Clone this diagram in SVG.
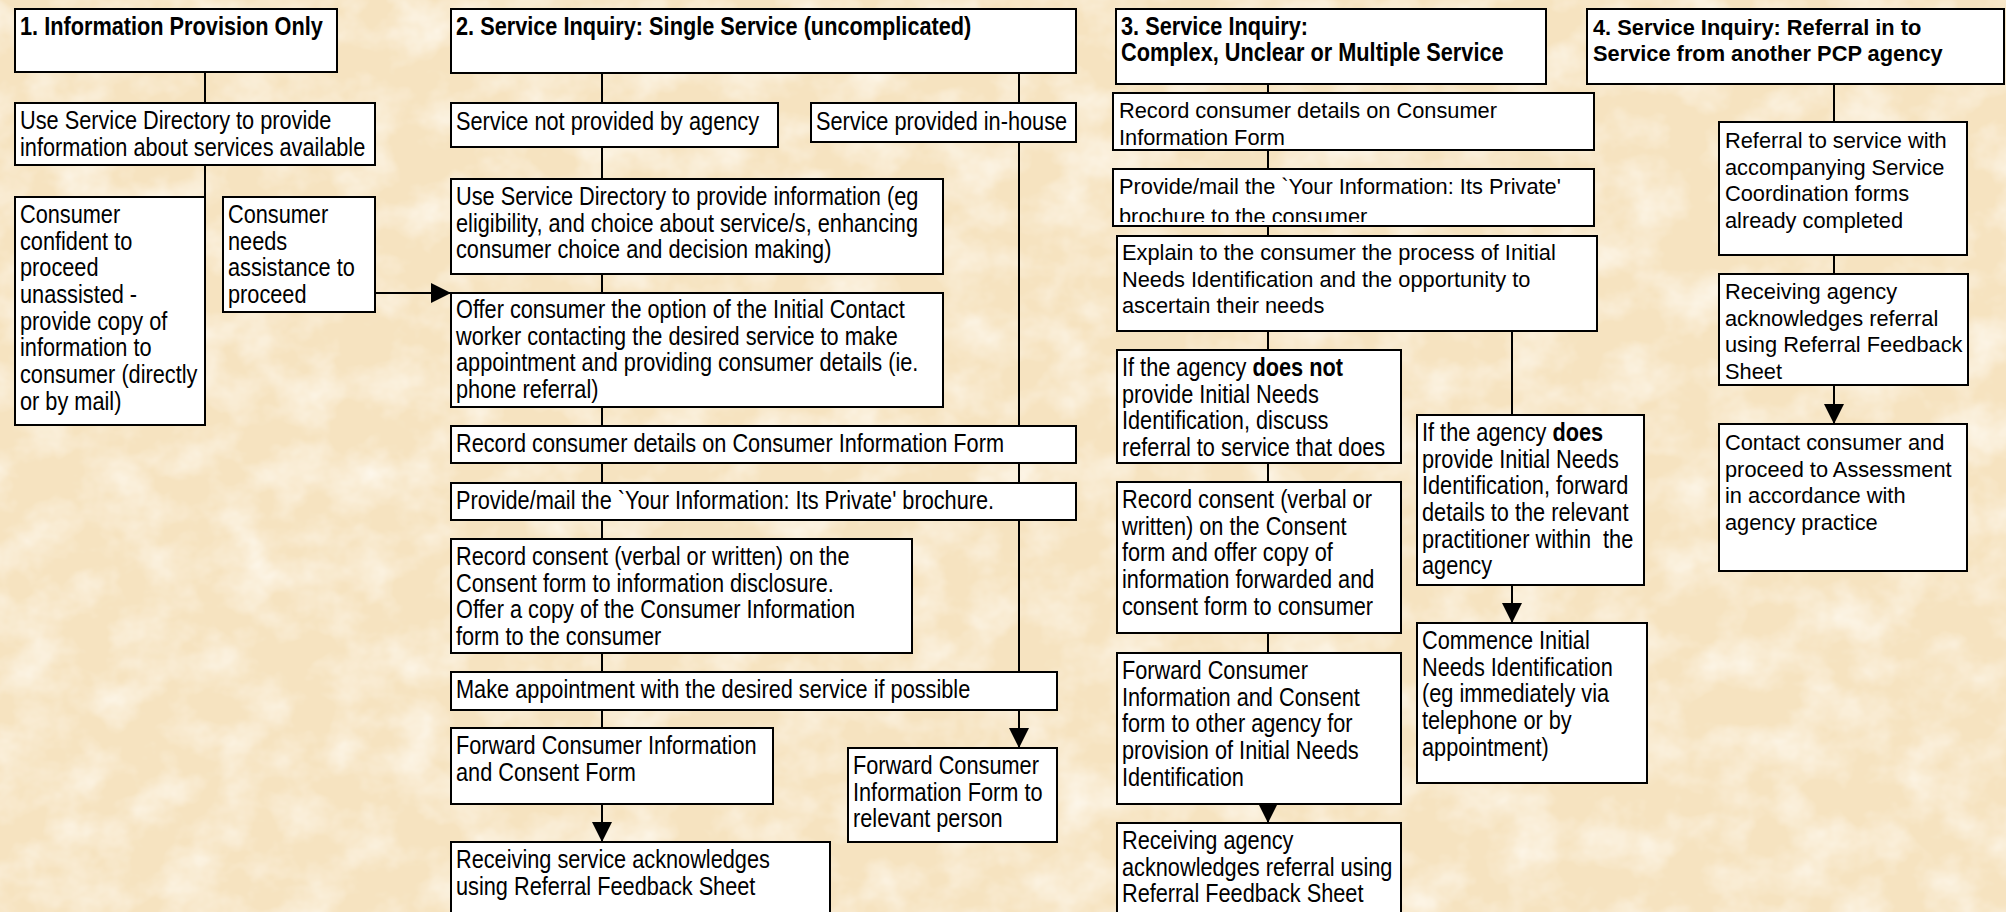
<svg xmlns="http://www.w3.org/2000/svg" width="2006" height="912" viewBox="0 0 2006 912">
<style>
.box{fill:#fff;stroke:#000;stroke-width:2}
.n{font-family:"Liberation Sans",Arial,sans-serif;font-size:26.5px;fill:#000}
.r{font-family:"Liberation Sans",Arial,sans-serif;font-size:21.8px;fill:#000}
.b{font-weight:bold}
.conn path{stroke:#000;stroke-width:2;fill:none}
</style>
<defs>
<marker id="ah" markerUnits="userSpaceOnUse" markerWidth="20" markerHeight="20" refX="20" refY="10" orient="auto" viewBox="0 0 20 20">
<path d="M0,0 L20,10 L0,20 z" fill="#000"/>
</marker>
<filter id="tex" filterUnits="userSpaceOnUse" x="0" y="0" width="2006" height="912">
<feTurbulence type="fractalNoise" baseFrequency="0.018 0.022" numOctaves="4" seed="7"/>
<feColorMatrix type="matrix" values="0 0 0 0 1  0 0 0 0 0.98  0 0 0 0 0.94  0 0 0 -1.4 0.85"/>
</filter>
<clipPath id="clipP"><rect x="1113" y="169" width="481" height="53"/></clipPath>
</defs>
<g id="background">
<rect width="2006" height="912" fill="#f6e3c0"/>
<rect width="2006" height="912" filter="url(#tex)"/>
</g>
<g id="connectors" class="conn">
<path d="M205,72V103"/>
<path d="M205,165V197"/>
<path d="M375,293H451" marker-end="url(#ah)"/>
<path d="M602,73V103"/>
<path d="M1019,73V103"/>
<path d="M602,147V179"/>
<path d="M602,274V293"/>
<path d="M602,407V426"/>
<path d="M1019,142V426"/>
<path d="M602,463V483"/>
<path d="M1019,463V483"/>
<path d="M602,520V539"/>
<path d="M1019,520V672"/>
<path d="M602,653V672"/>
<path d="M602,710V728"/>
<path d="M1019,710V748" marker-end="url(#ah)"/>
<path d="M602,804V842" marker-end="url(#ah)"/>
<path d="M1268,84V93"/>
<path d="M1268,150V169"/>
<path d="M1268,226V236"/>
<path d="M1268,331V350"/>
<path d="M1512,331V415"/>
<path d="M1268,463V482"/>
<path d="M1268,633V653"/>
<path d="M1268,804V823" marker-end="url(#ah)"/>
<path d="M1512,585V623" marker-end="url(#ah)"/>
<path d="M1834,84V122"/>
<path d="M1834,255V274"/>
<path d="M1834,385V424" marker-end="url(#ah)"/>
</g>
<g id="h1"><rect class="box" x="15" y="9" width="322" height="63"/>
<text class="n b" transform="translate(20,35) scale(0.82 1)">1. Information Provision Only</text></g>
<g id="c1a"><rect class="box" x="15" y="103" width="360" height="62"/>
<text class="n" transform="translate(20,129) scale(0.82 1)"><tspan x="0">Use Service Directory to provide</tspan><tspan x="0" dy="26.7">information about services available</tspan></text></g>
<g id="c1b"><rect class="box" x="15" y="197" width="190" height="228"/>
<text class="n" transform="translate(20,223) scale(0.82 1)"><tspan x="0">Consumer</tspan><tspan x="0" dy="26.7">confident to</tspan><tspan x="0" dy="26.7">proceed</tspan><tspan x="0" dy="26.7">unassisted -</tspan><tspan x="0" dy="26.7">provide copy of</tspan><tspan x="0" dy="26.7">information to</tspan><tspan x="0" dy="26.7">consumer (directly</tspan><tspan x="0" dy="26.7">or by mail)</tspan></text></g>
<g id="c1c"><rect class="box" x="223" y="197" width="152" height="115"/>
<text class="n" transform="translate(228,223) scale(0.82 1)"><tspan x="0">Consumer</tspan><tspan x="0" dy="26.7">needs</tspan><tspan x="0" dy="26.7">assistance to</tspan><tspan x="0" dy="26.7">proceed</tspan></text></g>
<g id="h2"><rect class="box" x="451" y="9" width="625" height="64"/>
<text class="n b" transform="translate(456,35) scale(0.82 1)">2. Service Inquiry: Single Service (uncomplicated)</text></g>
<g id="c2a"><rect class="box" x="451" y="103" width="327" height="44"/>
<text class="n" transform="translate(456,130) scale(0.82 1)">Service not provided by agency</text></g>
<g id="c2b"><rect class="box" x="811" y="103" width="265" height="39"/>
<text class="n" transform="translate(816,130) scale(0.82 1)">Service provided in-house</text></g>
<g id="c2c"><rect class="box" x="451" y="179" width="492" height="95"/>
<text class="n" transform="translate(456,205) scale(0.82 1)"><tspan x="0">Use Service Directory to provide information (eg</tspan><tspan x="0" dy="26.7">eligibility, and choice about service/s, enhancing</tspan><tspan x="0" dy="26.7">consumer choice and decision making)</tspan></text></g>
<g id="c2d"><rect class="box" x="451" y="293" width="492" height="114"/>
<text class="n" transform="translate(456,318) scale(0.82 1)"><tspan x="0">Offer consumer the option of the Initial Contact</tspan><tspan x="0" dy="26.7">worker contacting the desired service to make</tspan><tspan x="0" dy="26.7">appointment and providing consumer details (ie.</tspan><tspan x="0" dy="26.7">phone referral)</tspan></text></g>
<g id="c2e"><rect class="box" x="451" y="426" width="625" height="37"/>
<text class="n" transform="translate(456,452) scale(0.82 1)">Record consumer details on Consumer Information Form</text></g>
<g id="c2f"><rect class="box" x="451" y="483" width="625" height="37"/>
<text class="n" transform="translate(456,509) scale(0.82 1)">Provide/mail the `Your Information: Its Private' brochure.</text></g>
<g id="c2g"><rect class="box" x="451" y="539" width="461" height="114"/>
<text class="n" transform="translate(456,565) scale(0.82 1)"><tspan x="0">Record consent (verbal or written) on the</tspan><tspan x="0" dy="26.7">Consent form to information disclosure.</tspan><tspan x="0" dy="26.7">Offer a copy of the Consumer Information</tspan><tspan x="0" dy="26.7">form to the consumer</tspan></text></g>
<g id="c2h"><rect class="box" x="451" y="672" width="606" height="38"/>
<text class="n" transform="translate(456,698) scale(0.82 1)">Make appointment with the desired service if possible</text></g>
<g id="c2i"><rect class="box" x="451" y="728" width="322" height="76"/>
<text class="n" transform="translate(456,754) scale(0.82 1)"><tspan x="0">Forward Consumer Information</tspan><tspan x="0" dy="26.7">and Consent Form</tspan></text></g>
<g id="c2j"><rect class="box" x="848" y="748" width="209" height="94"/>
<text class="n" transform="translate(853,774) scale(0.82 1)"><tspan x="0">Forward Consumer</tspan><tspan x="0" dy="26.7">Information Form to</tspan><tspan x="0" dy="26.7">relevant person</tspan></text></g>
<g id="c2k"><rect class="box" x="451" y="842" width="379" height="100"/>
<text class="n" transform="translate(456,868) scale(0.82 1)"><tspan x="0">Receiving service acknowledges</tspan><tspan x="0" dy="26.7">using Referral Feedback Sheet</tspan></text></g>
<g id="h3"><rect class="box" x="1116" y="9" width="430" height="75"/>
<text class="n b" transform="translate(1121,34.5) scale(0.82 1)"><tspan x="0">3. Service Inquiry:</tspan><tspan x="0" dy="27">Complex, Unclear or Multiple Service</tspan></text></g>
<g id="c3a"><rect class="box" x="1113" y="93" width="481" height="57"/>
<text class="r" x="1119" y="118"><tspan x="1119">Record consumer details on Consumer</tspan><tspan x="1119" dy="26.7">Information Form</tspan></text></g>
<g id="c3b"><rect class="box" x="1113" y="169" width="481" height="57"/>
<text class="r" x="1119" y="194" clip-path="url(#clipP)"><tspan x="1119">Provide/mail the `Your Information: Its Private'</tspan><tspan x="1119" dy="30">brochure to the consumer</tspan></text></g>
<g id="c3c"><rect class="box" x="1117" y="236" width="480" height="95"/>
<text class="r" x="1122" y="260"><tspan x="1122">Explain to the consumer the process of Initial</tspan><tspan x="1122" dy="26.7">Needs Identification and the opportunity to</tspan><tspan x="1122" dy="26.7">ascertain their needs</tspan></text></g>
<g id="c3d"><rect class="box" x="1117" y="350" width="284" height="113"/>
<text class="n" transform="translate(1122,376) scale(0.82 1)"><tspan x="0">If the agency <tspan class="b">does not</tspan></tspan><tspan x="0" dy="26.7">provide Initial Needs</tspan><tspan x="0" dy="26.7">Identification, discuss</tspan><tspan x="0" dy="26.7">referral to service that does</tspan></text></g>
<g id="c3e"><rect class="box" x="1117" y="482" width="284" height="151"/>
<text class="n" transform="translate(1122,508) scale(0.82 1)"><tspan x="0">Record consent (verbal or</tspan><tspan x="0" dy="26.7">written) on the Consent</tspan><tspan x="0" dy="26.7">form and offer copy of</tspan><tspan x="0" dy="26.7">information forwarded and</tspan><tspan x="0" dy="26.7">consent form to consumer</tspan></text></g>
<g id="c3f"><rect class="box" x="1117" y="653" width="284" height="151"/>
<text class="n" transform="translate(1122,679) scale(0.82 1)"><tspan x="0">Forward Consumer</tspan><tspan x="0" dy="26.7">Information and Consent</tspan><tspan x="0" dy="26.7">form to other agency for</tspan><tspan x="0" dy="26.7">provision of Initial Needs</tspan><tspan x="0" dy="26.7">Identification</tspan></text></g>
<g id="c3g"><rect class="box" x="1117" y="823" width="284" height="120"/>
<text class="n" transform="translate(1122,849) scale(0.82 1)"><tspan x="0">Receiving agency</tspan><tspan x="0" dy="26.7">acknowledges referral using</tspan><tspan x="0" dy="26.7">Referral Feedback Sheet</tspan></text></g>
<g id="c3h"><rect class="box" x="1417" y="415" width="227" height="170"/>
<text class="n" transform="translate(1422,441) scale(0.82 1)"><tspan x="0">If the agency <tspan class="b">does</tspan></tspan><tspan x="0" dy="26.7">provide Initial Needs</tspan><tspan x="0" dy="26.7">Identification, forward</tspan><tspan x="0" dy="26.7">details to the relevant</tspan><tspan x="0" dy="26.7">practitioner within&#160; the</tspan><tspan x="0" dy="26.7">agency</tspan></text></g>
<g id="c3i"><rect class="box" x="1417" y="623" width="230" height="160"/>
<text class="n" transform="translate(1422,649) scale(0.82 1)"><tspan x="0">Commence Initial</tspan><tspan x="0" dy="26.7">Needs Identification</tspan><tspan x="0" dy="26.7">(eg immediately via</tspan><tspan x="0" dy="26.7">telephone or by</tspan><tspan x="0" dy="26.7">appointment)</tspan></text></g>
<g id="h4"><rect class="box" x="1587" y="9" width="417" height="75"/>
<text class="r b" x="1593" y="34.5"><tspan x="1593">4. Service Inquiry: Referral in to</tspan><tspan x="1593" dy="26.7">Service from another PCP agency</tspan></text></g>
<g id="c4a"><rect class="box" x="1719" y="122" width="248" height="133"/>
<text class="r" x="1725" y="148"><tspan x="1725">Referral to service with</tspan><tspan x="1725" dy="26.7">accompanying Service</tspan><tspan x="1725" dy="26.7">Coordination forms</tspan><tspan x="1725" dy="26.7">already completed</tspan></text></g>
<g id="c4b"><rect class="box" x="1719" y="274" width="249" height="111"/>
<text class="r" x="1725" y="299"><tspan x="1725">Receiving agency</tspan><tspan x="1725" dy="26.7">acknowledges referral</tspan><tspan x="1725" dy="26.7">using Referral Feedback</tspan><tspan x="1725" dy="26.7">Sheet</tspan></text></g>
<g id="c4c"><rect class="box" x="1719" y="424" width="248" height="147"/>
<text class="r" x="1725" y="450"><tspan x="1725">Contact consumer and</tspan><tspan x="1725" dy="26.7">proceed to Assessment</tspan><tspan x="1725" dy="26.7">in accordance with</tspan><tspan x="1725" dy="26.7">agency practice</tspan></text></g>
</svg>
